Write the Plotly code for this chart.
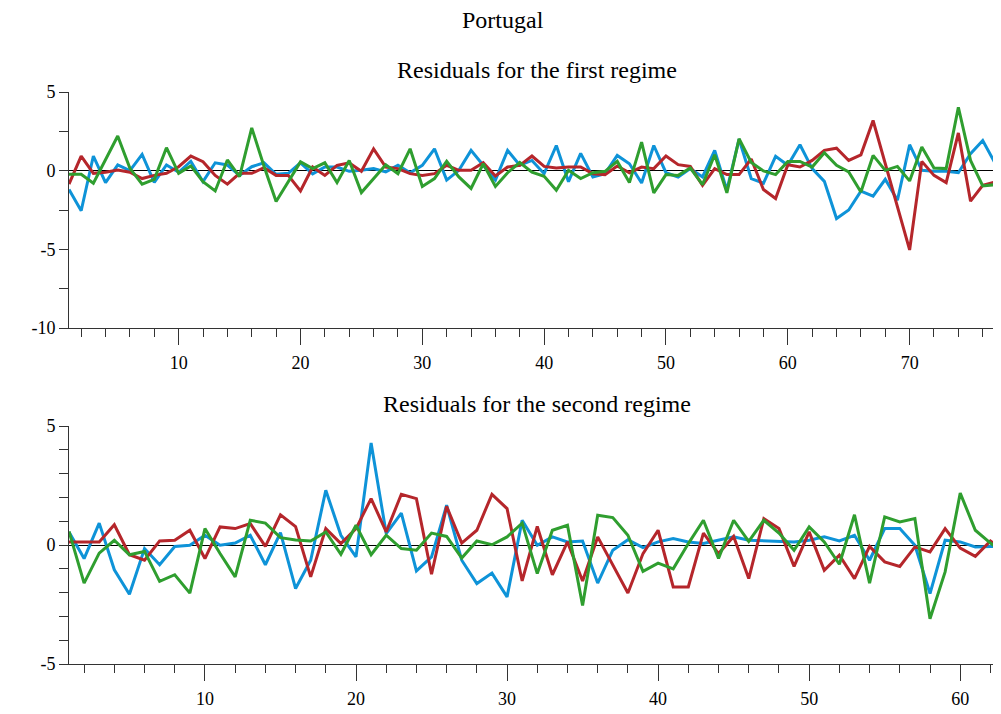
import plotly.graph_objects as go

# ---------------- data ----------------
t1 = list(range(1, 79))
blue1 = [-1.2, -2.55, 0.93, -0.76, 0.36, 0.0, 1.03, -0.74, 0.36, -0.1,
         0.6, -0.7, 0.5, 0.36, -0.3, 0.25, 0.5, -0.23, -0.17, 0.5,
         -0.2, 0.23, 0.23, -0.04, 0.02, 0.13, -0.08, 0.34, -0.13, 0.34,
         1.39, -0.6, 0.02, 1.29, 0.34, -0.6, 1.29, 0.34, 0.65, -0.19,
         1.6, -0.7, 1.1, -0.4, -0.19, 0.97, 0.44, -0.78, 1.6, -0.13,
         -0.4, 0.13, -0.4, 1.29, -1.24, 2.0, -0.5, -0.8, 0.91, 0.34,
         1.65, 0.13, -0.68, -3.04, -2.5, -1.3, -1.62, -0.55, -1.88, 1.65,
         0.02, -0.04, -0.04, -0.13, 1.08, 1.92, 0.5, 0.0]
red1 = [-0.85, 0.93, -0.17, -0.1, 0.04, -0.1, -0.5, -0.3, -0.17, 0.25,
        0.93, 0.57, -0.3, -0.86, -0.17, -0.17, 0.19, -0.3, -0.3, -1.29,
        0.23, -0.3, 0.34, 0.49, -0.04, 1.39, 0.23, 0.13, -0.19, -0.3,
        -0.19, 0.34, 0.02, 0.02, 0.5, -0.34, 0.23, 0.34, 0.93, 0.27,
        0.17, 0.23, 0.23, -0.19, -0.25, 0.3, -0.13, 0.23, 0.13, 0.93,
        0.38, 0.27, -0.93, 0.13, -0.25, -0.25, 0.74, -1.2, -1.77, 0.38,
        0.23, 0.65, 1.29, 1.43, 0.65, 1.01, 3.19, 0.4, -2.3, -5.04,
        0.59, -0.3, -0.76, 2.4, -1.94, -0.93, -0.72, 0.43]
green1 = [-0.23, -0.23, -0.8, 0.68, 2.2, 0.15, -0.86, -0.55, 1.46, -0.17,
          0.3, -0.7, -1.29, 0.68, -0.38, 2.72, 0.3, -1.96, -0.7, 0.56,
          0.13, 0.5, -0.76, 0.65, -1.39, -0.5, 0.38, -0.19, 1.39, -1.0,
          -0.5, 0.6, -0.4, -1.13, 0.44, -1.0, -0.13, 0.52, -0.1, -0.36,
          -1.24, 0.02, -0.5, -0.13, -0.04, 0.59, -0.76, 1.81, -1.41, -0.25,
          -0.3, 0.17, -0.89, 1.01, -1.41, 2.03, 0.52, -0.02, -0.25, 0.59,
          0.59, 0.23, 1.14, 0.34, -0.08, -1.35, 0.97, 0.02, 0.27, -0.65,
          1.5, 0.17, 0.13, 4.03, 0.65, -0.97, -0.89, 0.68]

t2 = list(range(1, 64))
blue2 = [0.55, -0.57, 0.92, -1.04, -2.07, -0.15, -0.83, -0.06, -0.01, 0.41,
         -0.01, 0.08, 0.41, -0.83, 0.52, -1.83, -0.64, 2.3, 0.41, -0.5,
         4.29, 0.48, 1.34, -1.09, -0.5, 1.67, -0.64, -1.62, -1.18, -2.18,
         1.04, -0.01, 0.34, 0.13, 0.17, -1.6, -0.22, 0.22, -0.11, 0.13,
         0.27, 0.13, 0.06, 0.2, 0.34, 0.2, 0.17, 0.17, 0.13, 0.2,
         0.34, 0.17, 0.41, -0.64, 0.69, 0.69, -0.01, -2.04, 0.2, 0.13,
         -0.08, -0.06, -0.1]
red2 = [0.13, 0.13, 0.13, 0.85, -0.41, -0.64, 0.17, 0.2, 0.62, -0.57,
        0.76, 0.69, 0.9, -0.06, 1.27, 0.77, -1.34, 0.69, 0.06, 0.69,
        1.95, 0.55, 2.13, 1.95, -1.23, 1.62, 0.08, 0.62, 2.13, 1.53,
        -1.51, 0.78, -1.25, 0.13, -1.51, 0.34, -0.81, -2.02, -0.36, 0.62,
        -1.76, -1.76, 0.5, -0.36, 0.36, -1.41, 1.11, 0.69, -0.9, 0.55,
        -1.06, -0.43, -1.41, -0.06, -0.71, -0.9, -0.08, -0.29, 0.69, -0.13,
        -0.48, 0.17, -0.29]
green2 = [0.57, -1.6, -0.34, 0.2, -0.41, -0.27, -1.53, -1.25, -2.02, 0.69,
          -0.36, -1.34, 1.04, 0.92, 0.31, 0.21, 0.17, 0.55, -0.39, 0.83,
          -0.41, 0.41, -0.15, -0.22, 0.5, 0.36, -0.55, 0.17, 0.01, 0.34,
          0.92, -1.2, 0.62, 0.83, -2.54, 1.25, 1.15, 0.41, -1.11, -0.76,
          -1.0, 0.06, 1.04, -0.57, 1.04, 0.15, 1.04, 0.5, -0.22, 0.76,
          0.13, -0.81, 1.27, -1.6, 1.18, 0.97, 1.11, -3.1, -1.13, 2.18,
          0.62, 0.08, -0.35]

y1_ticks = [-10, -5, 0, 5]
y1_labels = ["-10", "-5", "0", "5"]
y2_ticks = [-5, 0, 5]
y2_labels = ["-5", "0", "5"]

title_text = "Portugal"
sub1 = "Residuals for the first regime"
sub2 = "Residuals for the second regime"

# ---------------- style ----------------
BLUE = "#0E93D8"
RED = "#B5262B"
GREEN = "#2F9E2F"
FONT = "Liberation Serif"
OFF = 8                 # page body margin
W, H = 1001, 714 - OFF


def px_x(p):
    return (p - OFF) / W


def px_y(p):
    return 1 - (p - OFF) / H


fig = go.Figure()
for x, ys, xa, ya in [(t1, (blue1, red1, green1), "x", "y"),
                      (t2, (blue2, red2, green2), "x2", "y2")]:
    for y, c in zip(ys, (BLUE, RED, GREEN)):
        fig.add_trace(go.Scatter(x=x, y=y, mode="lines", xaxis=xa, yaxis=ya,
                                 line=dict(color=c, width=3), showlegend=False,
                                 hoverinfo="skip"))

axis_common = dict(showgrid=False, showline=True, linecolor="#333333", linewidth=1,
                   ticks="outside", tickcolor="#333333", tickwidth=1, automargin=False,
                   tickfont=dict(family=FONT, size=18, color="black"))
xminor = dict(dtick=2, tick0=0, ticklen=8, ticks="outside", tickcolor="#333333")

fig.update_layout(
    template="none",
    width=W, height=H,
    margin=dict(l=0, r=0, t=0, b=0, pad=0),
    plot_bgcolor="white", paper_bgcolor="white",
    xaxis=dict(domain=[px_x(69), px_x(1001)], range=[1, 77.5], anchor="y",
               tick0=0, dtick=10, ticklen=16, ticklabelstandoff=2,
               minor=xminor, zeroline=False, **axis_common),
    yaxis=dict(domain=[px_y(328), px_y(92)], range=[-10, 5], anchor="x",
               tickvals=y1_ticks, ticktext=y1_labels, ticklen=9,
               minor=dict(dtick=2.5, tick0=0, ticklen=9, ticks="outside", tickcolor="#333333"),
               zeroline=True, zerolinecolor="black", zerolinewidth=1, **axis_common),
    xaxis2=dict(domain=[px_x(69), px_x(1001)], range=[1, 62.7], anchor="y2",
                tick0=0, dtick=10, ticklen=16, ticklabelstandoff=2,
                minor=xminor, zeroline=False, **axis_common),
    yaxis2=dict(domain=[px_y(664), px_y(426)], range=[-5, 5], anchor="x2",
                tickvals=y2_ticks, ticktext=y2_labels, ticklen=9,
                minor=dict(dtick=1, tick0=0, ticklen=9, ticks="outside", tickcolor="#333333"),
                zeroline=True, zerolinecolor="black", zerolinewidth=1, **axis_common),
    annotations=[
        dict(text=title_text, x=px_x(503), y=px_y(20), xref="paper", yref="paper",
             showarrow=False, xanchor="center", yanchor="middle",
             font=dict(family=FONT, size=24, color="black")),
        dict(text=sub1, x=px_x(537), y=px_y(70), xref="paper", yref="paper",
             showarrow=False, xanchor="center", yanchor="middle",
             font=dict(family=FONT, size=24, color="black")),
        dict(text=sub2, x=px_x(537), y=px_y(404), xref="paper", yref="paper",
             showarrow=False, xanchor="center", yanchor="middle",
             font=dict(family=FONT, size=24, color="black")),
    ],
)

fig.write_html("out.html")
